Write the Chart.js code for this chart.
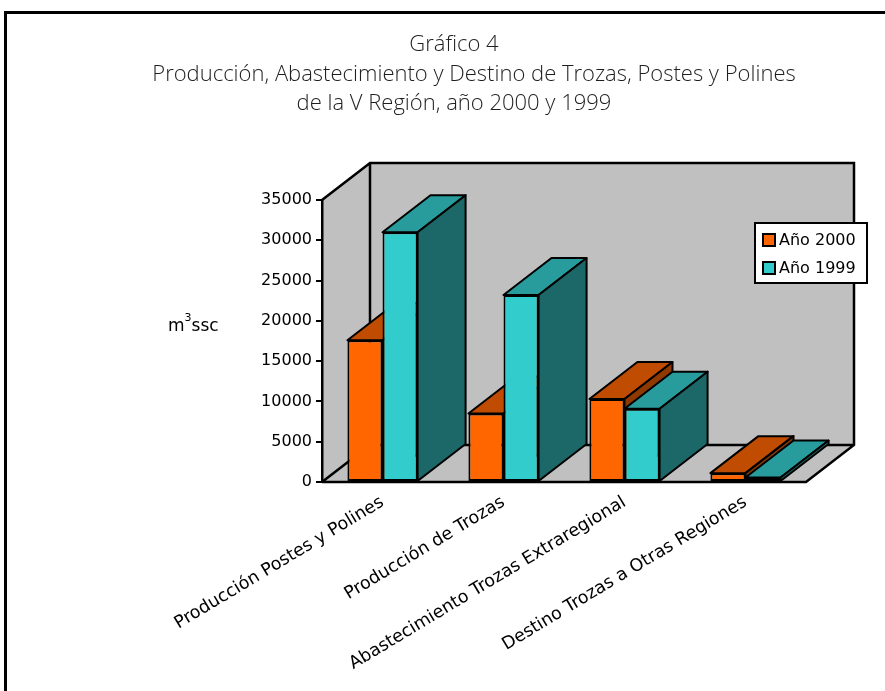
<!DOCTYPE html>
<html>
<head>
<meta charset="utf-8">
<script src="https://cdn.jsdelivr.net/npm/chart.js@4"></script>
<style>
html,body{margin:0;padding:0;background:#fff;}
#wrap{width:885px;height:691px;position:relative;}
canvas{display:block;}
</style>
</head>
<body>
<div id="wrap"><canvas id="c" width="885" height="691"></canvas></div>
<script>
// ---- data ----
const titleLines = [
  'Gráfico 4',
  'Producción, Abastecimiento y Destino de Trozas, Postes y Polines',
  'de la V Región, año 2000 y 1999'
];
const categories = [
  'Producción Postes y Polines',
  'Producción de Trozas',
  'Abastecimiento Trozas Extraregional',
  'Destino Trozas a Otras Regiones'
];
const seriesNames = ['Año 2000', 'Año 1999'];
const values2000 = [17600, 8500, 10300, 1100];
const values1999 = [31000, 23200, 9100, 550];
const yTickValues = [0, 5000, 10000, 15000, 20000, 25000, 30000, 35000];
const yAxisTitleParts = ['m', '3', 'ssc'];

// ---- styles ----
const frontColors = ['#FF6600', '#33CCCC'];
const topColors = ['#BF4C00', '#289C9C'];
const sideColors = ['#8F3900', '#1C6767'];
const wallColor = '#C0C0C0';
const DX = 48, DY = -37;
const titleCenters = [454, 474, 454];
const axisFont = '"DejaVu Sans", "Liberation Sans", Arial, sans-serif';

function poly(ctx, pts, fill) {
  ctx.beginPath();
  ctx.moveTo(pts[0][0], pts[0][1]);
  for (let i = 1; i < pts.length; i++) ctx.lineTo(pts[i][0], pts[i][1]);
  ctx.closePath();
  ctx.fillStyle = fill;
  ctx.fill();
  ctx.stroke();
}

const scenePlugin = {
  id: 'scene3d',
  beforeDraw(chart) {
    const ctx = chart.ctx;
    const {left: L, right: R, top: T, bottom: B} = chart.chartArea;
    ctx.save();
    ctx.fillStyle = '#fff';
    ctx.fillRect(0, 0, chart.width, chart.height);
    // outer frame
    ctx.strokeStyle = '#000';
    ctx.lineWidth = 3;
    ctx.strokeRect(5.5, 12.5, 920, 720);
    // walls + floor
    ctx.fillStyle = wallColor;
    ctx.beginPath();
    ctx.moveTo(L, T); ctx.lineTo(L + DX, T + DY); ctx.lineTo(R + DX, T + DY);
    ctx.lineTo(R + DX, B + DY); ctx.lineTo(R, B); ctx.lineTo(L, B); ctx.closePath();
    ctx.fill();
    ctx.lineWidth = 2.5;
    ctx.lineJoin = 'miter';
    ctx.beginPath();
    ctx.moveTo(L, T); ctx.lineTo(L + DX, T + DY); ctx.lineTo(R + DX, T + DY);
    ctx.lineTo(R + DX, B + DY); ctx.lineTo(R, B); ctx.lineTo(L, B);
    ctx.moveTo(L + DX, T + DY); ctx.lineTo(L + DX, B + DY); ctx.lineTo(R + DX, B + DY);
    ctx.moveTo(L, B); ctx.lineTo(L + DX, B + DY);
    ctx.stroke();
    // title
    ctx.fillStyle = '#1e1e1e';
    ctx.font = '300 22px "Open Sans", "Lato", sans-serif';
    ctx.textAlign = 'center';
    ctx.textBaseline = 'middle';
    titleLines.forEach((t, i) => ctx.fillText(t, titleCenters[i], 45 + i * 29.5));
    // y axis title m^3ssc
    ctx.fillStyle = '#000';
    ctx.textAlign = 'left';
    ctx.textBaseline = 'alphabetic';
    ctx.font = '17px ' + axisFont;
    let x = 168;
    ctx.fillText(yAxisTitleParts[0], x, 331);
    x += ctx.measureText(yAxisTitleParts[0]).width;
    ctx.font = '11px ' + axisFont;
    ctx.fillText(yAxisTitleParts[1], x, 321);
    x += ctx.measureText(yAxisTitleParts[1]).width;
    ctx.font = '17px ' + axisFont;
    ctx.fillText(yAxisTitleParts[2], x, 331);
    ctx.restore();
  },
  beforeDatasetsDraw(chart) {
    const ctx = chart.ctx;
    ctx.save();
    ctx.strokeStyle = '#000';
    ctx.lineWidth = 2;
    ctx.lineJoin = 'round';
    const n = chart.data.labels.length;
    for (let i = 0; i < n; i++) {
      chart.data.datasets.forEach((ds, d) => {
        const el = chart.getDatasetMeta(d).data[i];
        const p = el.getProps(['x', 'y', 'base', 'width'], true);
        const l = p.x - p.width / 2, r = p.x + p.width / 2, t = p.y, b = p.base;
        poly(ctx, [[l, t], [r, t], [r + DX, t + DY], [l + DX, t + DY]], topColors[d]);
        poly(ctx, [[r, t], [r + DX, t + DY], [r + DX, b + DY], [r, b]], sideColors[d]);
      });
    }
    ctx.restore();
  },
  afterDraw(chart) {
    const ctx = chart.ctx;
    ctx.save();
    // legend
    const bx = 755, by = 223, bw = 112, bh = 60;
    ctx.fillStyle = '#fff';
    ctx.fillRect(bx, by, bw, bh);
    ctx.strokeStyle = '#000';
    ctx.lineWidth = 2;
    ctx.strokeRect(bx, by, bw, bh);
    ctx.font = '16px ' + axisFont;
    ctx.textBaseline = 'middle';
    ctx.textAlign = 'left';
    chart.data.datasets.forEach((ds, d) => {
      const cy = by + 17 + d * 28;
      ctx.fillStyle = ds.backgroundColor;
      ctx.fillRect(bx + 8, cy - 6, 12, 12);
      ctx.strokeRect(bx + 8, cy - 6, 12, 12);
      ctx.fillStyle = '#000';
      ctx.fillText(ds.label, bx + 24, cy + 1);
    });
    ctx.restore();
  }
};

function build() {
  new Chart(document.getElementById('c'), {
    type: 'bar',
    data: {
      labels: categories,
      datasets: [
        {label: seriesNames[0], data: values2000, backgroundColor: frontColors[0],
         borderColor: '#000', borderWidth: 2, borderSkipped: false},
        {label: seriesNames[1], data: values1999, backgroundColor: frontColors[1],
         borderColor: '#000', borderWidth: 2, borderSkipped: false}
      ]
    },
    options: {
      responsive: false,
      animation: false,
      devicePixelRatio: 1,
      layout: {padding: {left: 0, right: 79, top: 200, bottom: 0}},
      datasets: {bar: {categoryPercentage: 0.58, barPercentage: 1.0}},
      plugins: {legend: {display: false}, title: {display: false}, tooltip: {enabled: false}},
      scales: {
        x: {
          grid: {display: false, drawTicks: false},
          border: {display: false},
          ticks: {
            autoSkip: false, minRotation: 31, maxRotation: 31, padding: 10,
            color: '#000', font: {family: axisFont, size: 17.5}
          },
          afterFit(scale) { scale.height = 209; }
        },
        y: {
          min: 0, max: 35000,
          grid: {drawOnChartArea: false, drawTicks: true, tickLength: 6, color: '#000', lineWidth: 2},
          border: {display: true, color: '#000', width: 2.5},
          ticks: {
            color: '#000', padding: 4, font: {family: axisFont, size: 16},
            callback: (v) => String(v)
          },
          afterBuildTicks(scale) { scale.ticks = yTickValues.map(v => ({value: v})); },
          afterFit(scale) { scale.width = 322; }
        }
      }
    },
    plugins: [scenePlugin]
  });
}

Promise.all([
  document.fonts.load('16px "DejaVu Sans"'),
  document.fonts.load('300 22px "Open Sans"')
]).then(build, build);
</script>
</body>
</html>
